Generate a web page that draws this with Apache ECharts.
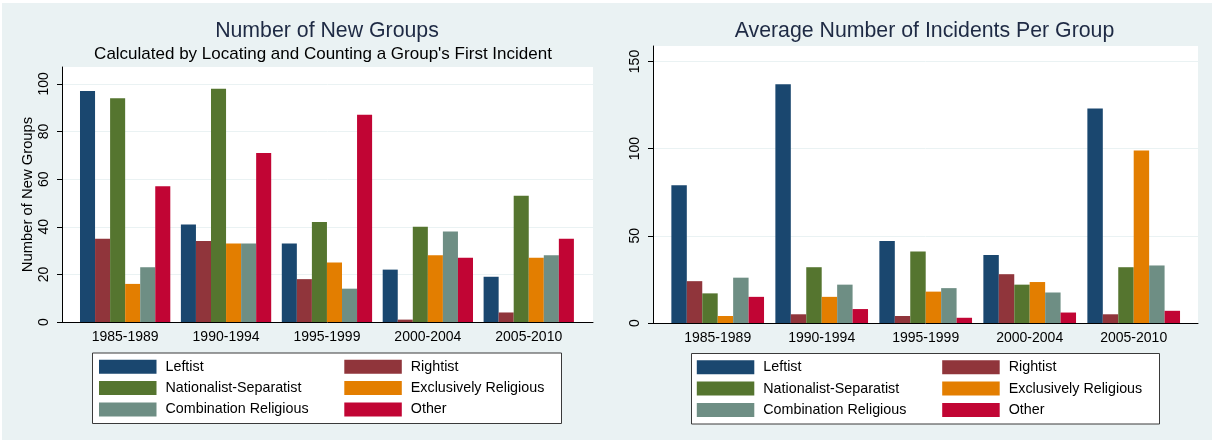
<!DOCTYPE html>
<html>
<head>
<meta charset="utf-8">
<script src="https://cdn.jsdelivr.net/npm/echarts@6/dist/echarts.min.js"></script>
<style>
  html, body { margin: 0; padding: 0; background: #ffffff; }
  #chart { width: 1212px; height: 442px; }
</style>
</head>
<body>
<div id="chart"></div>
<script>
// Five-year periods on the category axis
const periods = ['1985-1989', '1990-1994', '1995-1999', '2000-2004', '2005-2010'];

// Group types (series) and their colours
const groupTypes = ['Leftist', 'Rightist', 'Nationalist-Separatist', 'Exclusively Religious', 'Combination Religious', 'Other'];
const typeColors = ['#1a476f', '#90353b', '#55752f', '#e37e00', '#6e8e84', '#c10534'];

// Number of new groups per period (first incident of each group)
const newLeftist  = [97, 41, 33, 22, 19];
const newRightist = [35, 34, 18, 1, 4];
const newNatSep   = [94, 98, 42, 40, 53];
const newExclRel  = [16, 33, 25, 28, 27];
const newCombRel  = [23, 33, 14, 38, 28];
const newOther    = [57, 71, 87, 27, 35];

// Average number of incidents per group
const avgLeftist  = [79, 137, 47, 39, 123];
const avgRightist = [24, 5, 4, 28, 5];
const avgNatSep   = [17, 32, 41, 22, 32];
const avgExclRel  = [4, 15, 18, 23.5, 99];
const avgCombRel  = [26, 22, 20, 17.5, 33];
const avgOther    = [15, 8, 3, 6, 7];

// Tick labels on the value axes
const newTicks = [0, 20, 40, 60, 80, 100];
const avgTicks = [0, 50, 100, 150];

const newSeries = [newLeftist, newRightist, newNatSep, newExclRel, newCombRel, newOther];
const avgSeries = [avgLeftist, avgRightist, avgNatSep, avgExclRel, avgCombRel, avgOther];

const FONT = '"Liberation Sans", Arial, sans-serif';
const BG = '#eaf2f3';

const chart = echarts.init(document.getElementById('chart'), null, { renderer: 'canvas' });

// value-axis ranges (top of each plot box)
const newMax = 107.1;
const avgMax = 158.9;

// plot frame: white box, y axis with ticks/labels, baseline
function frameY(gridIndex, max, ticks, name) {
  return {
    gridIndex: gridIndex, type: 'value', min: 0, max: max,
    name: name || '', nameLocation: 'middle', nameGap: 27,
    nameTextStyle: { fontFamily: FONT, fontSize: 14.8, color: '#000' },
    axisLine: { show: true, lineStyle: { color: '#000', width: 1 } },
    axisTick: { show: true, length: 5, customValues: ticks, lineStyle: { color: '#000' } },
    axisLabel: { show: true, customValues: ticks, rotate: 90, margin: 11,
      fontFamily: FONT, fontSize: 14, color: '#000' },
    splitLine: { show: true, lineStyle: { color: BG, width: 1 } }
  };
}
function frameX(gridIndex) {
  return {
    gridIndex: gridIndex, type: 'value', min: 0, max: 1, z: 5,
    axisLine: { show: true, onZero: false, lineStyle: { color: '#000', width: 1 } },
    axisTick: { show: false }, axisLabel: { show: false }, splitLine: { show: false }
  };
}
// bar area: category axis inset from the frame
function barX(gridIndex) {
  return {
    gridIndex: gridIndex, type: 'category', data: periods,
    axisLine: { show: false }, axisTick: { show: false }, splitLine: { show: false },
    axisLabel: { show: true, margin: 8, fontFamily: FONT, fontSize: 14, color: '#000' }
  };
}
function barY(gridIndex, max) {
  return { gridIndex: gridIndex, type: 'value', min: 0, max: max, show: false,
    splitLine: { show: false } };
}

const series = [];
groupTypes.forEach(function (name, i) {
  series.push({
    name: name, type: 'bar', xAxisIndex: 1, yAxisIndex: 1,
    data: newSeries[i], barGap: '0%', barCategoryGap: '10.5%',
    itemStyle: { color: typeColors[i] }
  });
});
groupTypes.forEach(function (name, i) {
  series.push({
    name: name, type: 'bar', xAxisIndex: 3, yAxisIndex: 3,
    data: avgSeries[i], barGap: '0%', barCategoryGap: '10.9%',
    itemStyle: { color: typeColors[i] }
  });
});

function legendCol(left, top, gap, names) {
  return {
    orient: 'vertical', left: left, top: top, padding: 0,
    itemWidth: 57.5, itemHeight: 14, itemGap: gap, icon: 'rect',
    data: names,
    textStyle: { fontFamily: FONT, fontSize: 14.3, color: '#000', lineHeight: 14, padding: [0, 0, 0, 4] }
  };
}

const colA = [groupTypes[0], groupTypes[2], groupTypes[4]];
const colB = [groupTypes[1], groupTypes[3], groupTypes[5]];

const option = {
  backgroundColor: BG,
  animation: false,
  grid: [
    { left: 62, top: 67, width: 531, height: 255, show: true, backgroundColor: '#ffffff', borderWidth: 0, outerBoundsMode: 'none' },
    { left: 74.7, top: 67, width: 504.5, height: 255, outerBoundsMode: 'none' },
    { left: 653, top: 46, width: 545, height: 277, show: true, backgroundColor: '#ffffff', borderWidth: 0, outerBoundsMode: 'none' },
    { left: 665.7, top: 46, width: 520, height: 277, outerBoundsMode: 'none' }
  ],
  xAxis: [frameX(0), barX(1), frameX(2), barX(3)],
  yAxis: [frameY(0, newMax, newTicks, 'Number of New Groups'), barY(1, newMax),
          frameY(2, avgMax, avgTicks, ''), barY(3, avgMax)],
  legend: [
    legendCol(99, 359.8, 7.3, colA),
    legendCol(344.3, 359.8, 7.3, colB),
    legendCol(696.8, 360.2, 7.4, colA),
    legendCol(942.2, 360.2, 7.4, colB)
  ],
  graphic: [
    // thin white page edge
    { type: 'rect', shape: { x: 0, y: 0, width: 1212, height: 3 }, style: { fill: '#fff' }, silent: true },
    { type: 'rect', shape: { x: 0, y: 0, width: 2, height: 442 }, style: { fill: '#fff' }, silent: true },
    { type: 'rect', shape: { x: 0, y: 440, width: 1212, height: 2 }, style: { fill: '#fff' }, silent: true },
    // legend frames
    { type: 'rect', shape: { x: 92.5, y: 353, width: 469, height: 70.5 },
      style: { fill: '#fff', stroke: '#3a3a3a', lineWidth: 1 }, silent: true },
    { type: 'rect', shape: { x: 691.5, y: 353.5, width: 468, height: 70.5 },
      style: { fill: '#fff', stroke: '#3a3a3a', lineWidth: 1 }, silent: true },
    // titles
    { type: 'text', x: 327, y: 31.5, silent: true,
      style: { text: 'Number of New Groups', fontFamily: FONT, fontSize: 21.3, fill: '#1e2a44', align: 'center', verticalAlign: 'middle' } },
    { type: 'text', x: 323, y: 54, silent: true,
      style: { text: "Calculated by Locating and Counting a Group's First Incident", fontFamily: FONT, fontSize: 17, fill: '#000', align: 'center', verticalAlign: 'middle' } },
    { type: 'text', x: 924.5, y: 31.5, silent: true,
      style: { text: 'Average Number of Incidents Per Group', fontFamily: FONT, fontSize: 21.3, fill: '#1e2a44', align: 'center', verticalAlign: 'middle' } }
  ],
  series: series
};

chart.setOption(option);
</script>
</body>
</html>
